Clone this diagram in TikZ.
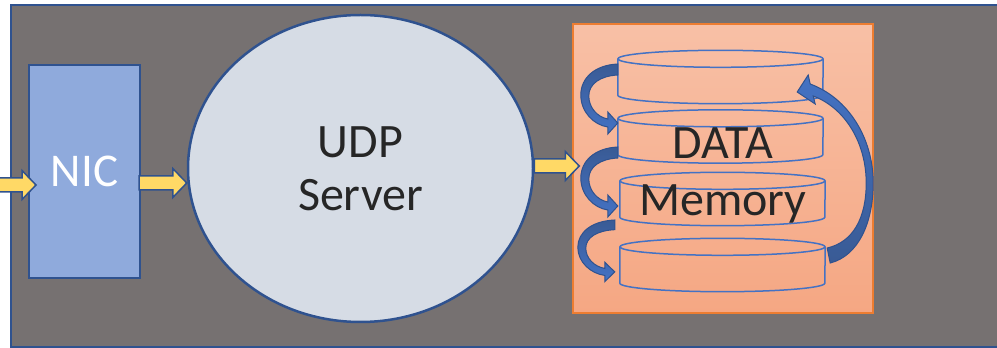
\documentclass[tikz,border=0pt]{standalone}
\usepackage{fontspec}
\setmainfont{Carlito}
\usetikzlibrary{positioning}
\usetikzlibrary{calc}
\usetikzlibrary{shapes}
\definecolor{slate}{HTML}{767171}
\definecolor{navy}{HTML}{2F528F}
\definecolor{nicblue}{HTML}{8FAADC}
\definecolor{srvgray}{HTML}{D6DCE5}
\definecolor{amber}{HTML}{FFD966}
\definecolor{accent}{HTML}{4472C4}
\definecolor{salmontop}{HTML}{F8C0A6}
\definecolor{salmonbot}{HTML}{F5A783}
\definecolor{orangeline}{HTML}{ED7D31}
\definecolor{ink}{HTML}{262626}

\newcommand{\drawdisk}[1]{%
  \draw[disk] ([yshift=-8.5pt]#1.north west) -- ([yshift=8.5pt]#1.south west)
    arc[start angle=180, end angle=360, x radius=102.5pt, y radius=8.5pt]
    -- ([yshift=-8.5pt]#1.north east);
  \draw[disk] ([yshift=-8.5pt]#1.north) ellipse [x radius=102.5pt, y radius=8.5pt];}
\newcommand{\fatarrow}[2]{%
  \filldraw[yellowarrow] ($(#1)+(0,7)$) -- ($(#2)+(-14,7)$) -- ($(#2)+(-14,14.5)$)
    -- (#2) -- ($(#2)+(-14,-14.5)$) -- ($(#2)+(-14,-7)$) -- ($(#1)+(0,-7)$) -- cycle;}

\tikzset{
  loopdown/.pic={
    \draw[bluearrow, top color=navy!95, bottom color=accent] (0,0) .. controls (-23,-1) and (-37,-14) .. (-37,-31)
      .. controls (-37,-48) and (-24,-61) .. (-10,-63) -- (-10,-70) -- (0,-59)
      -- (-10,-48) -- (-10,-55) .. controls (-21,-53) and (-29,-43) .. (-29,-32)
      .. controls (-29,-20) and (-18,-12) .. (0,-11) -- cycle;},
  loopup/.pic={
    \draw[bluearrow, bottom color=navy!95, top color=accent] (0,0) .. controls (28,7) and (43,40) .. (43,80)
      .. controls (43,125) and (18,165) .. (-20,179) -- (-22,188) -- (-33,171)
      -- (-15,159) -- (-17,167) .. controls (15,155) and (36,120) .. (36,80)
      .. controls (36,45) and (23,21) .. (-3,15) -- cycle;}
}

\begin{document}
\begin{tikzpicture}
    [x=1pt, y=1pt,
    frame/.style={fill=slate, draw=navy, line width=2pt},
    nicbox/.style={rectangle, fill=nicblue, draw=navy, line width=2pt, minimum width=111pt, minimum height=213pt, inner sep=0pt, text=white, font=\fontsize{47}{52}\selectfont},
    server/.style={ellipse, fill=srvgray, draw=navy, line width=2.5pt, minimum width=345pt, minimum height=307pt, inner sep=0pt, align=center, text=ink, font=\fontsize{48}{53}\selectfont},
    membox/.style={rectangle, top color=salmontop, bottom color=salmonbot, draw=orangeline, line width=1.5pt, minimum width=300pt, minimum height=289pt, inner sep=0pt},
    diskbox/.style={rectangle, minimum width=205pt, minimum height=53pt, inner sep=0pt},
    disk/.style={draw=accent, line width=1.5pt},
    memtext/.style={align=center, text=ink, font=\fontsize{48}{57}\selectfont},
    yellowarrow/.style={fill=amber, draw=navy, line width=1.5pt, line join=miter},
    bluearrow/.style={draw=navy, line width=1pt}]
     \useasboundingbox (0,0) rectangle (997,348);
     \clip (0,0) rectangle (997,348);
     \draw[frame] (11,1) rectangle (1010,343);
     \node[nicbox] (nic) at (84.5, 176.5)   {NIC};
     \node[server] (udp) at (360.5, 179.5)  {UDP\\Server};
     \node[membox] (mem) at (723, 179.5)    {};
     \node[diskbox] (d1) at (720.5, 271)    {};
     \node[diskbox] (d2) at (720.5, 211.5)  {};
     \node[diskbox] (d3) at (722.5, 149)    {};
     \node[diskbox] (d4) at (722.5, 83)     {};
     \drawdisk{d1}
     \drawdisk{d2}
     \drawdisk{d3}
     \drawdisk{d4}
     \node[memtext] (data) at (723, 173)   {DATA\\Memory};
     % curved arrows between the disks
     \pic at ($(d1.west)+(0,13)$) {loopdown};
     \pic at ($(d2.west)+(0,-10.5)$) {loopdown};
     \pic[yscale=0.88] at ($(d3.west)+(-5,-21)$) {loopdown};
     \pic at ($(d4.east)+(5,2)$) {loopup};
     % packet flow
     \coordinate (src) at (-5, 163);
     \coordinate (nicin) at ($(nic.west |- src)+(8,0)$);
     \coordinate (nicout) at ($(nic.east)+(-2,-11.5)$);
     \coordinate (udpin) at (udp.west |- nicout);
     \coordinate (udpout) at ($(udp.east)+(0,2.5)$);
     \coordinate (memin) at ($(mem.west |- udpout)+(7,0)$);
     \fatarrow{src}{nicin}
     \fatarrow{nicout}{udpin}
     \fatarrow{udpout}{memin}
\end{tikzpicture}
\end{document}
